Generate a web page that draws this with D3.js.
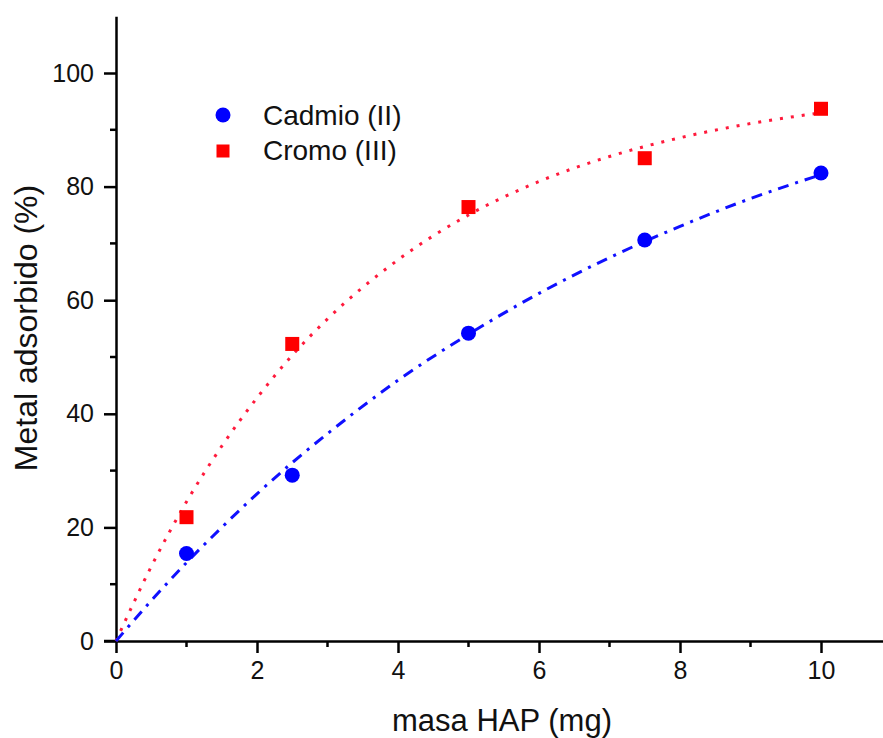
<!DOCTYPE html>
<html>
<head>
<meta charset="utf-8">
<script src="https://cdn.jsdelivr.net/npm/d3@7"></script>
<style>
  body { margin: 0; background: #fff; }
  svg text { font-family: "Liberation Sans", Arial, sans-serif; fill: #111; }
</style>
</head>
<body>
<div id="chart"></div>
<script>
// measured points
var masa = [1, 2.5, 5, 7.5, 10];
var cadmio = [15.4, 29.2, 54.2, 70.6, 82.4];
var cromo = [21.8, 52.3, 76.4, 85.0, 93.7];

// fitted curves
var fitX = [0, 0.5, 1, 1.5, 2, 2.5, 3, 4, 5, 6, 7, 8, 9, 10];
var fitCadmio = [0, 7.1, 13.8, 20.0, 25.9, 31.4, 36.5, 45.9, 54.0, 61.2, 67.5, 73.0, 77.9, 82.1];
var fitCromo = [0, 13.1, 24.5, 34.3, 42.8, 50.3, 56.7, 67.1, 75.0, 80.9, 85.3, 88.6, 91.1, 93.0];

var xMajor = [0, 2, 4, 6, 8, 10];
var xMinor = [1, 3, 5, 7, 9];
var yMajor = [0, 20, 40, 60, 80, 100];
var yMinor = [10, 30, 50, 70, 90];

var width = 883, height = 738;

var svg = d3.select('#chart').append('svg')
    .attr('width', width)
    .attr('height', height);

var xScale = d3.scaleLinear()
    .domain([0, 11])
    .range([116, 116 + 11 * 70.5]);

var yScale = d3.scaleLinear()
    .domain([0, 110])
    .range([641, 641 - 110 * 5.68]);

// y axis
var yAxis = d3.axisLeft(yScale)
    .tickValues(yMajor)
    .tickSize(12)
    .tickPadding(10)
    .tickSizeOuter(0);

var gy = svg.append('g')
    .attr('transform', `translate(${xScale(0)},0)`)
    .call(yAxis);
gy.select('.domain').attr('stroke-width', 2.5);
gy.selectAll('.tick line').attr('stroke-width', 2.5);
gy.selectAll('text').style('font-size', '25px');

gy.selectAll('.minor')
    .data(yMinor)
    .enter()
    .append('line')
    .attr('class', 'minor')
    .attr('x1', -6).attr('x2', 0)
    .attr('y1', d => yScale(d)).attr('y2', d => yScale(d))
    .attr('stroke', '#000')
    .attr('stroke-width', 2.5);

// x axis
var xAxis = d3.axisBottom(xScale)
    .tickValues(xMajor)
    .tickSize(12)
    .tickPadding(8)
    .tickSizeOuter(0);

var gx = svg.append('g')
    .attr('transform', `translate(0,${yScale(0)})`)
    .call(xAxis);
gx.select('.domain').attr('stroke-width', 2.5);
gx.selectAll('.tick line').attr('stroke-width', 2.5);
gx.selectAll('text').style('font-size', '25px');

gx.selectAll('.minor')
    .data(xMinor)
    .enter()
    .append('line')
    .attr('class', 'minor')
    .attr('y1', 0).attr('y2', 6)
    .attr('x1', d => xScale(d)).attr('x2', d => xScale(d))
    .attr('stroke', '#000')
    .attr('stroke-width', 2.5);

// little extension of the x axis line past the origin
svg.append('line')
    .attr('x1', xScale(0) - 12).attr('x2', xScale(0))
    .attr('y1', yScale(0)).attr('y2', yScale(0))
    .attr('stroke', '#000').attr('stroke-width', 2.5);

// axis titles
svg.append('text')
    .attr('x', 502)
    .attr('y', 731)
    .attr('text-anchor', 'middle')
    .style('font-size', '31px')
    .text('masa HAP (mg)');

svg.append('text')
    .attr('transform', 'translate(37, 328) rotate(-90)')
    .attr('text-anchor', 'middle')
    .style('font-size', '32px')
    .text('Metal adsorbido (%)');

// fit lines
var line = d3.line()
    .x(d => xScale(d[0]))
    .y(d => yScale(d[1]))
    .curve(d3.curveMonotoneX);

svg.append('path')
    .datum(fitX.map((x, i) => [x, fitCromo[i]]))
    .attr('d', line)
    .attr('fill', 'none')
    .attr('stroke', '#ff1a3c')
    .attr('stroke-width', 3)
    .attr('stroke-dasharray', '3,8');

svg.append('path')
    .datum(fitX.map((x, i) => [x, fitCadmio[i]]))
    .attr('d', line)
    .attr('fill', 'none')
    .attr('stroke', '#1010ff')
    .attr('stroke-width', 3)
    .attr('stroke-dasharray', '11,7,3,7');

// markers
svg.selectAll('.cd')
    .data(masa)
    .enter()
    .append('circle')
    .attr('class', 'cd')
    .attr('cx', d => xScale(d))
    .attr('cy', (d, i) => yScale(cadmio[i]))
    .attr('r', 7.5)
    .attr('fill', '#0000ff');

svg.selectAll('.cr')
    .data(masa)
    .enter()
    .append('rect')
    .attr('class', 'cr')
    .attr('x', d => xScale(d) - 7)
    .attr('y', (d, i) => yScale(cromo[i]) - 7)
    .attr('width', 14)
    .attr('height', 14)
    .attr('fill', '#ff0000');

// legend
var legend = svg.append('g').attr('transform', 'translate(223,115)');
legend.append('circle').attr('r', 7.5).attr('fill', '#0000ff');
legend.append('rect').attr('x', -6.5).attr('y', 29.5).attr('width', 13).attr('height', 13).attr('fill', '#ff0000');
legend.append('text').attr('x', 40).attr('y', 10).style('font-size', '28px').text('Cadmio (II)');
legend.append('text').attr('x', 40).attr('y', 45).style('font-size', '28px').text('Cromo (III)');
</script>
</body>
</html>
